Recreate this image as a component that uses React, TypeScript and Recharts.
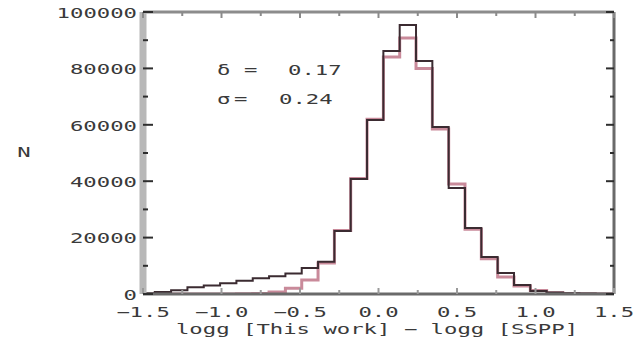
import React from "react";
import { LineChart, Line, XAxis, YAxis } from "recharts";

// Histogram bin left edges (logg difference)
const binEdges = [
  -1.5, -1.425, -1.321, -1.217, -1.113, -1.009, -0.905, -0.801, -0.697, -0.593,
  -0.489, -0.385, -0.281, -0.177, -0.073, 0.031, 0.135, 0.239, 0.343, 0.447,
  0.551, 0.655, 0.759, 0.863, 0.967, 1.071, 1.175, 1.279, 1.383, 1.487, 1.5,
];
// Observed counts (black histogram)
const histCounts = [
  300, 700, 1300, 2400, 3000, 3800, 4700, 5600, 6300, 7300,
  9200, 11400, 22300, 40800, 61700, 86200, 95400, 82600, 59200, 37600,
  23400, 13100, 7450, 3200, 1100, 500, 250, 150, 80, 50, 50,
];
// Gaussian fit (pink histogram)
const fitCounts = [
  0, 0, 0, 0, 0, 0, 50, 200, 700, 2000,
  5000, 11000, 22500, 41000, 62000, 84000, 90800, 80000, 58500, 39000,
  23000, 12500, 6000, 2800, 1200, 450, 150, 50, 0, 0, 0,
];
const yTicks = [0, 10000, 20000, 30000, 40000, 50000, 60000, 70000, 80000, 90000, 100000];
const xTicks = [-1.5, -1.25, -1.0, -0.75, -0.5, -0.25, 0, 0.25, 0.5, 0.75, 1.0, 1.25, 1.5];
const statLines = [
  { sym: "δ", eq: "=", val: "0.17" },
  { sym: "σ", eq: "=", val: "0.24" },
];
const xLabel = "logg [This work] − logg [SSPP]";
const yLabel = "N";

const data = binEdges.map((x, i) => ({ x, hist: histCounts[i], fit: fitCounts[i] }));

const FONT = "'DejaVu Sans Mono', monospace";
const FS = 13.5;
const SX = 1.65;
const TXT = "#3a3a3a";

const fmtX = (v: number) => {
  const s = Math.abs(v).toFixed(1);
  return v < 0 ? "−" + s : s;
};

const Scaled = ({ x, y, anchor, children }: any) => (
  <text
    transform={`translate(${x},${y}) scale(${SX},1)`}
    textAnchor={anchor}
    dominantBaseline="central"
    fontFamily={FONT}
    fontSize={FS}
    fill={TXT}
  >
    {children}
  </text>
);

const LeftTick = (props: any) => {
  const { x, y, payload } = props;
  const major = payload.value % 20000 === 0;
  return (
    <g>
      <line x1={x} x2={x + (major ? 10 : 5)} y1={y} y2={y} stroke="#2e2e2e" strokeWidth={2} />
      {major && (
        <Scaled x={x - 6} y={y + 1} anchor="end">
          {String(payload.value)}
        </Scaled>
      )}
    </g>
  );
};

const RightTick = (props: any) => {
  const { x, y, payload } = props;
  const major = payload.value % 20000 === 0;
  return <line x1={x} x2={x - (major ? 8 : 4)} y1={y} y2={y} stroke="#2e2e2e" strokeWidth={2} />;
};

const BottomTick = (props: any) => {
  const { x, y, payload } = props;
  const major = Math.abs(Math.round(payload.value * 2) - payload.value * 2) < 1e-6;
  return (
    <g>
      <line x1={x} x2={x} y1={y} y2={y - (major ? 6 : 4)} stroke="#9a9a9a" strokeWidth={2} />
      {major && (
        <Scaled x={x} y={y + 18} anchor="middle">
          {fmtX(payload.value)}
        </Scaled>
      )}
    </g>
  );
};

const TopTick = (props: any) => {
  const { x, y, payload } = props;
  const major = Math.abs(Math.round(payload.value * 2) - payload.value * 2) < 1e-6;
  return <line x1={x} x2={x} y1={y} y2={y + (major ? 6 : 4)} stroke="#8a8a8a" strokeWidth={2} />;
};

export default function App() {
  return (
    <div style={{ position: "relative", width: 639, height: 340, background: "#fff" }}>
      <style>{`body{margin:0;}`}</style>
      <LineChart
        width={639}
        height={340}
        data={data}
        margin={{ top: 0, right: 0, bottom: 0, left: 0 }}
      >
        <XAxis
          xAxisId="bottom"
          dataKey="x"
          type="number"
          domain={[-1.5, 1.5]}
          ticks={xTicks}
          interval={0}
          height={46}
          tickSize={0}
          tickMargin={0}
          tickLine={false}
          axisLine={{ stroke: "#6a6a6a", strokeWidth: 3 }}
          tick={<BottomTick />}
          allowDataOverflow
        />
        <XAxis
          xAxisId="top"
          orientation="top"
          dataKey="x"
          type="number"
          domain={[-1.5, 1.5]}
          ticks={xTicks}
          interval={0}
          height={12}
          tickSize={0}
          tickMargin={0}
          tickLine={false}
          axisLine={{ stroke: "#8c8c8c", strokeWidth: 3 }}
          tick={<TopTick />}
          allowDataOverflow
        />
        <YAxis
          yAxisId="left"
          type="number"
          domain={[0, 100000]}
          ticks={yTicks}
          interval={0}
          width={143}
          tickSize={0}
          tickMargin={0}
          tickLine={false}
          axisLine={{ stroke: "#b8b8b8", strokeWidth: 7 }}
          tick={<LeftTick />}
          allowDataOverflow
        />
        <YAxis
          yAxisId="right"
          orientation="right"
          type="number"
          domain={[0, 100000]}
          ticks={yTicks}
          interval={0}
          width={25}
          tickSize={0}
          tickMargin={0}
          tickLine={false}
          axisLine={{ stroke: "#6a6a6a", strokeWidth: 3 }}
          tick={<RightTick />}
          allowDataOverflow
        />
        <Line
          xAxisId="top"
          yAxisId="right"
          dataKey="fit"
          type="stepAfter"
          stroke="none"
          strokeWidth={0}
          dot={false}
          legendType="none"
          isAnimationActive={false}
        />
        <Line
          xAxisId="bottom"
          yAxisId="left"
          dataKey="fit"
          type="stepAfter"
          stroke="#c98a9a"
          strokeWidth={3}
          dot={false}
          isAnimationActive={false}
        />
        <Line
          xAxisId="bottom"
          yAxisId="left"
          dataKey="hist"
          type="stepAfter"
          stroke="#3b2b31"
          strokeWidth={2}
          dot={false}
          isAnimationActive={false}
        />
      </LineChart>
      <svg
        width={639}
        height={340}
        style={{ position: "absolute", left: 0, top: 0, pointerEvents: "none" }}
      >
        {statLines.map((s, i) => (
          <g key={i}>
            <Scaled x={217} y={70 + i * 29} anchor="start">{s.sym}</Scaled>
            <Scaled x={i === 0 ? 244 : 234} y={70 + i * 29} anchor="start">{s.eq}</Scaled>
            <Scaled x={i === 0 ? 288 : 279} y={70 + i * 29} anchor="start">{s.val}</Scaled>
          </g>
        ))}
        <Scaled x={377} y={329} anchor="middle">{xLabel}</Scaled>
        <Scaled x={24} y={152} anchor="middle">{yLabel}</Scaled>
      </svg>
    </div>
  );
}
